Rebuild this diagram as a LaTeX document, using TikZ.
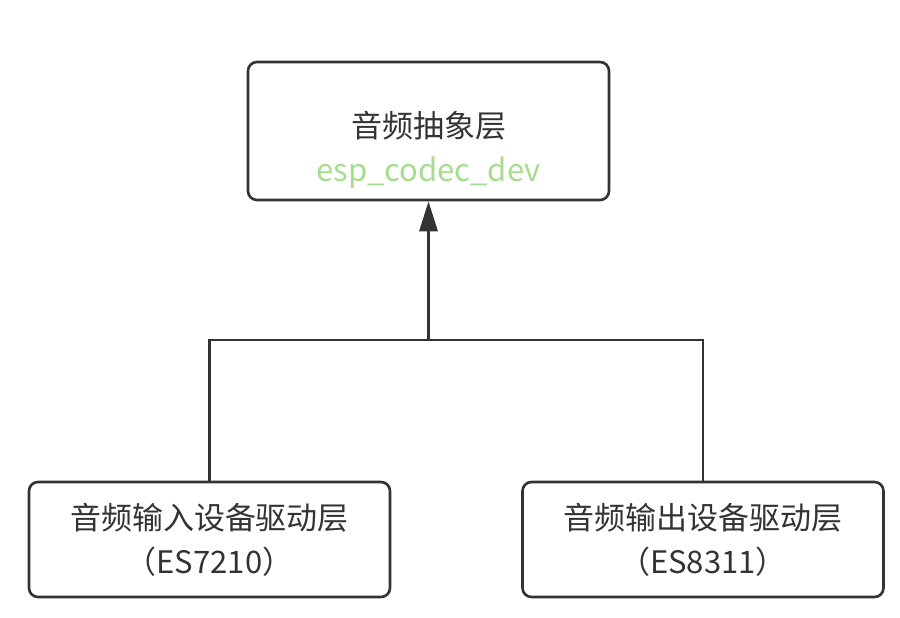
\documentclass[tikz,border=0pt]{standalone}
\usepackage{fontspec}
\setmainfont{Noto Sans CJK SC}
\usetikzlibrary{arrows.meta}
\definecolor{edge}{HTML}{333333}
\definecolor{lg}{HTML}{A6DC8E}
\tikzset{
  box/.style={draw=edge, line width=2.6pt, rounded corners=9pt, minimum width=361pt, align=center, font=\fontsize{31}{44}\selectfont, text=edge},
  link/.style={draw=edge, line width=2.6pt}
}
\begin{document}
\begin{tikzpicture}[x=1pt,y=1pt]
\useasboundingbox (0,0) rectangle (900,-618);
\node[box, minimum height=138pt] (top) at (428.5,-131) {};
\node[text=edge, font=\fontsize{31}{44}\selectfont, align=center] (toptxt) at (428.5,-150) {音频抽象层\\\textcolor{lg}{esp\_codec\_dev}};
\node[box, minimum height=115pt] (left) at (209.5,-539.5) {音频输入设备驱动层\\（ES7210）};
\node[box, minimum height=115pt] (right) at (703,-539.5) {音频输出设备驱动层\\（ES8311）};
\coordinate (j) at (428.5,-340);
\draw[link] (left.north) |- (j) -| (right.north);
\draw[link, line width=3.2pt, -{Triangle[length=30pt,width=18pt]}] (j) -- (top.south);
\end{tikzpicture}
\end{document}
